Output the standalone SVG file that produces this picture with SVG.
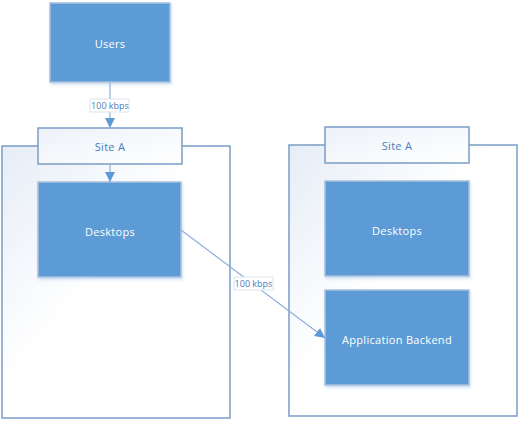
<svg xmlns="http://www.w3.org/2000/svg" width="521" height="421" viewBox="0 0 521 421">
<defs>
<linearGradient id="cg" x1="0" y1="0" x2="1" y2="1">
<stop offset="0" stop-color="#E6EDF7"/>
<stop offset="0.45" stop-color="#FFFFFF"/>
<stop offset="1" stop-color="#FFFFFF"/>
</linearGradient>
<linearGradient id="hg" x1="0" y1="0" x2="1" y2="1">
<stop offset="0" stop-color="#EDF2F9"/>
<stop offset="1" stop-color="#FFFFFF"/>
</linearGradient>
<filter id="sh" x="-10%" y="-10%" width="125%" height="125%">
<feDropShadow dx="1" dy="2" stdDeviation="1.5" flood-color="#5B9BD5" flood-opacity="0.3"/>
</filter>
<marker id="ah" viewBox="0 0 10 10" refX="10" refY="5" markerWidth="10" markerHeight="10" markerUnits="userSpaceOnUse" orient="auto">
<path d="M0,0 L10,5 L0,10 z" fill="#5B9BD5"/>
</marker>
</defs>
<style>
.cont{fill:url(#cg);stroke:#7A9CC6;stroke-width:1.5}
.hdr{fill:url(#hg);stroke:#7A9CC6;stroke-width:1.5}
.box{fill:#5B9BD5;stroke:#A9C1DC;stroke-width:1.5;filter:url(#sh)}
.wt{font-family:"Open Sans","Liberation Sans",sans-serif;font-size:11px;letter-spacing:0.3px;fill:#FFFFFF;text-anchor:middle;dominant-baseline:central}
.bt{font-family:"Open Sans","Liberation Sans",sans-serif;font-size:11px;letter-spacing:0.3px;fill:#4A7EBB;text-anchor:middle;dominant-baseline:central}
.lt{font-family:"Open Sans","Liberation Sans",sans-serif;font-size:9px;fill:#4A7EBB;text-anchor:middle;dominant-baseline:central}
.lb{fill:#FFFFFF;stroke:#DDE5EF;stroke-width:1}
.cn{fill:none;stroke:#8DB0DA;stroke-width:1.2;marker-end:url(#ah)}
</style>
<g id="containerLeft">
<rect class="cont" x="2" y="146" width="228" height="272"/>
</g>
<g id="containerRight">
<rect class="cont" x="289" y="145" width="228" height="271"/>
</g>
<g id="siteA-left">
<rect class="hdr" x="38" y="128" width="144" height="36"/>
<text class="bt" x="110" y="146">Site A</text>
</g>
<g id="siteA-right">
<rect class="hdr" x="325" y="127" width="144" height="36"/>
<text class="bt" x="397" y="145">Site A</text>
</g>
<g id="users">
<rect class="box" x="50" y="3" width="120" height="79"/>
<text class="wt" x="110" y="43">Users</text>
</g>
<g id="desktops-left">
<rect class="box" x="38" y="182" width="143" height="95"/>
<text class="wt" x="110" y="231">Desktops</text>
</g>
<g id="desktops-right">
<rect class="box" x="325" y="181" width="144" height="95"/>
<text class="wt" x="397" y="230">Desktops</text>
</g>
<g id="appBackend">
<rect class="box" x="325" y="290" width="144" height="95"/>
<text class="wt" x="397" y="339">Application Backend</text>
</g>
<g id="connectors">
<line class="cn" x1="110" y1="83" x2="110" y2="128"/>
<line class="cn" x1="110" y1="165" x2="110" y2="182"/>
<line class="cn" x1="181" y1="230" x2="325" y2="338"/>
<rect class="lb" x="90" y="99" width="39" height="13"/>
<text class="lt" x="110" y="105.5">100 kbps</text>
<rect class="lb" x="234" y="277" width="39" height="13"/>
<text class="lt" x="253.5" y="283.5">100 kbps</text>
</g>
</svg>
